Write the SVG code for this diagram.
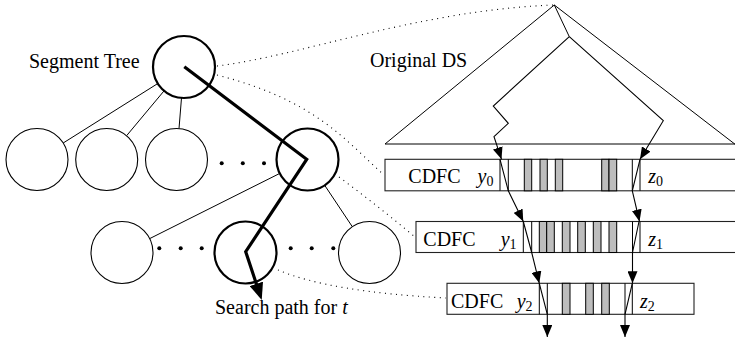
<svg xmlns="http://www.w3.org/2000/svg" width="735" height="340" viewBox="0 0 735 340">
<defs>
<style>
.t{font-family:"Liberation Serif","Times New Roman",serif;font-size:20px;fill:#000}
.i{font-style:italic}
.c{fill:#fff;stroke:#000;stroke-width:1.1}
.ct{fill:#fff;stroke:#000;stroke-width:2.2}
.e{stroke:#000;stroke-width:1;fill:none}
.d{stroke:#000;stroke-width:1.1;fill:none;stroke-dasharray:1 4.5}
.a{stroke:#000;stroke-width:1.1;fill:none;marker-end:url(#ah)}
.box{fill:#fff;stroke:#222;stroke-width:1.1}
.g{fill:#bdbdbd;stroke:#000;stroke-width:1}
.v{stroke:#000;stroke-width:1}
.dot{fill:#000}
</style>
<marker id="ah" viewBox="0 0 12 10" refX="12" refY="5" markerWidth="12" markerHeight="10" markerUnits="userSpaceOnUse" orient="auto">
<path d="M0,0 L12,5 L0,10 z" fill="#000"/>
</marker>
<marker id="ahb" viewBox="0 0 17 14" refX="9" refY="7" markerWidth="17" markerHeight="14" markerUnits="userSpaceOnUse" orient="auto">
<path d="M0,0 L17,7 L0,14 z" fill="#000"/>
</marker>
</defs>
<rect width="735" height="340" fill="#fff"/>

<g id="connectors">
<path class="d" d="M217,66 C300,56 420,10 554,5"/>
<path class="d" d="M217,75 C315,100 345,140 384,175"/>
<path class="d" d="M339,177 Q378,206 415,237"/>
<path class="d" d="M278,270 Q330,292 446,298"/>
<line class="e" x1="157.8" y1="83.5" x2="63.2" y2="143"/>
<line class="e" x1="164.1" y1="90.8" x2="126.6" y2="135.7"/>
<line class="e" x1="181.5" y1="97.9" x2="179" y2="128.6"/>
<line class="e" x1="279.8" y1="173.4" x2="149.7" y2="238.6"/>
<line class="e" x1="324.7" y1="185.3" x2="352.3" y2="226.7"/>
</g>

<g id="original-ds">
<path class="e" d="M385,144 L554.3,5 L736,145 M385,144 L736,144" stroke-width="1.1"/>
<path class="e" d="M554.3,5 L569.3,36.7" stroke-width="1.1"/>
<text class="t" x="370" y="66.7">Original DS</text>
</g>

<g id="tree-root">
<circle class="ct" cx="184" cy="67" r="31"/>
<text class="t" x="29" y="67.7">Segment Tree</text>
</g>
<g id="tree-l2-1"><circle class="c" cx="37" cy="159.5" r="31"/></g>
<g id="tree-l2-2"><circle class="c" cx="106.7" cy="159.5" r="31"/></g>
<g id="tree-l2-3"><circle class="c" cx="176.5" cy="159.5" r="31"/></g>
<g id="tree-l2-dots">
<circle class="dot" cx="221.7" cy="163.3" r="2"/><circle class="dot" cx="242.8" cy="163.3" r="2"/><circle class="dot" cx="264" cy="163.3" r="2"/>
</g>
<g id="tree-l2-4"><circle class="ct" cx="307.5" cy="159.5" r="31"/></g>
<g id="tree-l3-1"><circle class="c" cx="122" cy="252.5" r="31"/></g>
<g id="tree-l3-dots">
<circle class="dot" cx="159.3" cy="248.3" r="2"/><circle class="dot" cx="180.7" cy="248.3" r="2"/><circle class="dot" cx="201.7" cy="248.3" r="2"/>
<circle class="dot" cx="290.7" cy="248.3" r="2"/><circle class="dot" cx="311.7" cy="248.3" r="2"/><circle class="dot" cx="333.3" cy="248.3" r="2"/>
</g>
<g id="tree-l3-2"><circle class="ct" cx="245.5" cy="252.5" r="31"/></g>
<g id="tree-l3-3"><circle class="c" cx="369.5" cy="252.5" r="31"/></g>

<g id="cdfc0">
<rect class="box" x="385" y="159.3" width="360" height="31.5"/>
<line class="v" x1="500" y1="159.3" x2="500" y2="190.8"/>
<line class="v" x1="508.3" y1="159.3" x2="508.3" y2="190.8"/>
<rect class="g" x="524.3" y="159.3" width="7.4" height="31.5"/>
<rect class="g" x="540" y="159.3" width="7.3" height="31.5"/>
<rect class="g" x="555.3" y="159.3" width="7.4" height="31.5"/>
<rect class="g" x="601.7" y="159.3" width="7.3" height="31.5"/>
<rect class="g" x="609" y="159.3" width="7.7" height="31.5"/>
<line class="v" x1="632.3" y1="159.3" x2="632.3" y2="190.8"/>
<line class="v" x1="640" y1="159.3" x2="640" y2="190.8"/>
<text class="t" x="408.3" y="183">CDFC</text>
<text class="t i" x="477.5" y="183">y<tspan font-size="14" font-style="normal" dy="3">0</tspan></text>
<text class="t i" x="648.3" y="183">z<tspan font-size="14" font-style="normal" dy="3">0</tspan></text>
</g>

<g id="cdfc1">
<rect class="box" x="416" y="221.5" width="330" height="31"/>
<line class="v" x1="523.3" y1="221.5" x2="523.3" y2="252.5"/>
<line class="v" x1="531.7" y1="221.5" x2="531.7" y2="252.5"/>
<rect class="g" x="539.3" y="221.5" width="7.4" height="31"/>
<rect class="g" x="546.7" y="221.5" width="7.6" height="31"/>
<rect class="g" x="562.3" y="221.5" width="7.7" height="31"/>
<rect class="g" x="577.7" y="221.5" width="7.6" height="31"/>
<rect class="g" x="593.3" y="221.5" width="7.7" height="31"/>
<rect class="g" x="609" y="221.5" width="7.7" height="31"/>
<line class="v" x1="632.5" y1="221.5" x2="632.5" y2="252.5"/>
<line class="v" x1="640" y1="221.5" x2="640" y2="252.5"/>
<text class="t" x="423.3" y="246">CDFC</text>
<text class="t i" x="500.7" y="246">y<tspan font-size="14" font-style="normal" dy="3">1</tspan></text>
<text class="t i" x="648.3" y="246">z<tspan font-size="14" font-style="normal" dy="3">1</tspan></text>
</g>

<g id="cdfc2">
<rect class="box" x="447" y="283.3" width="247" height="31"/>
<line class="v" x1="539.3" y1="283.3" x2="539.3" y2="314.3"/>
<line class="v" x1="547.3" y1="283.3" x2="547.3" y2="314.3"/>
<rect class="g" x="562.3" y="283.3" width="7.7" height="31"/>
<rect class="g" x="585.7" y="283.3" width="7.6" height="31"/>
<rect class="g" x="601.7" y="283.3" width="7.6" height="31"/>
<line class="v" x1="625" y1="283.3" x2="625" y2="314.3"/>
<line class="v" x1="632.3" y1="283.3" x2="632.3" y2="314.3"/>
<text class="t" x="451" y="308.3">CDFC</text>
<text class="t i" x="516.7" y="308.3">y<tspan font-size="14" font-style="normal" dy="3">2</tspan></text>
<text class="t i" x="640" y="308.3">z<tspan font-size="14" font-style="normal" dy="3">2</tspan></text>
</g>

<g id="search-connectors">
<path class="a" d="M569.3,36.7 L493.3,106 L508.3,123.3 L494,136.7 L501.5,159.3"/>
<path class="a" d="M569.3,36.7 L663.3,120.7 L640,159.3"/>
<path class="a" d="M500,159.3 L508.3,190.8 L523.3,221.5"/>
<path class="a" d="M640,159.3 L632.3,190.8 L639.5,221.5"/>
<path class="a" d="M523.3,221.5 L531.7,252.5 L539.3,283.3"/>
<path class="a" d="M639,221.5 L632.5,252.5 L632.5,283.3"/>
<path class="a" d="M539.3,283.3 L547.3,314.3 L547.3,337"/>
<path class="a" d="M632.3,283.3 L625,314.3 L625,337"/>
<path d="M184.3,66.7 L306.7,159.3 L245.7,251.7 L259.2,292.4" fill="none" stroke="#000" stroke-width="3.2" stroke-linejoin="miter" marker-end="url(#ahb)"/>
</g>

<g id="search-label">
<text class="t" x="215" y="314">Search path for <tspan class="i">t</tspan></text>
</g>
</svg>
